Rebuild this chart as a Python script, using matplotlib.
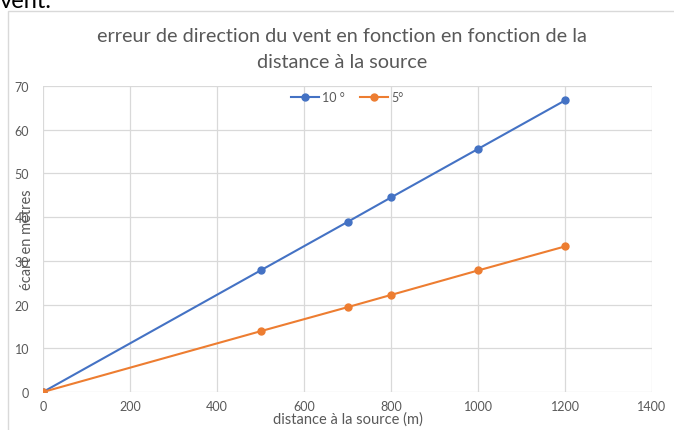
import matplotlib.pyplot as plt
from matplotlib.patches import Rectangle

plt.rcParams['font.family'] = ['Lato', 'DejaVu Sans']

distance = [0, 500, 700, 800, 1000, 1200]
ecart_10 = [0, 27.8, 38.9, 44.5, 55.6, 66.7]
ecart_5 = [0, 13.9, 19.4, 22.2, 27.8, 33.3]
xticks = [0, 200, 400, 600, 800, 1000, 1200, 1400]
yticks = [0, 10, 20, 30, 40, 50, 60, 70]

grey = "#595959"
fig = plt.figure(figsize=(6.74, 4.31), dpi=100)

# cadre du graphique
fig.patches.append(Rectangle((8/674, -0.01), 0.995, 1 - 12/431 + 0.01,
                             transform=fig.transFigure, fill=False,
                             edgecolor="#D9D9D9", linewidth=1))
fig.text(0.0, 1 - 2/431, "vent.", fontsize=17, color="black", va="center", ha="left")

ax1 = fig.add_axes([43/674, 1 - 393/431, (652 - 43)/674, (393 - 87)/431])
ax1.plot(distance, ecart_10, color="#4472C4", marker="o", markersize=5, linewidth=1.5, label="10 °")
ax1.plot(distance, ecart_5, color="#ED7D31", marker="o", markersize=5, linewidth=1.5, label="5°")

ax1.set_xlim(0, 1400)
ax1.set_ylim(0, 70)
ax1.set_xticks(xticks)
ax1.set_yticks(yticks)
ax1.grid(True, color="#D9D9D9", linewidth=0.9)
ax1.set_axisbelow(True)
for s in ax1.spines.values():
    s.set_visible(False)
ax1.tick_params(length=0, labelsize=9, labelcolor=grey, pad=6)
ax1.tick_params(axis="y", pad=10)

ax1.set_xlabel("distance à la source (m)", fontsize=10.5, color=grey, labelpad=-1)
ax1.set_ylabel("écart en mètres", fontsize=10.5, color=grey, labelpad=-14)

fig.text(0.508, 1 - 37/431, "erreur de direction du vent en fonction en fonction de la",
         fontsize=14.3, color=grey, ha="center", va="center")
fig.text(0.508, 1 - 62/431, "distance à la source",
         fontsize=14.3, color=grey, ha="center", va="center")

leg = ax1.legend(loc="upper center", bbox_to_anchor=(0.5, 1.02), ncol=2, frameon=False,
                 fontsize=9, handlelength=2.2, columnspacing=1.2, handletextpad=0.3)
for t in leg.get_texts():
    t.set_color(grey)

fig.savefig("out.png", dpi=100)
